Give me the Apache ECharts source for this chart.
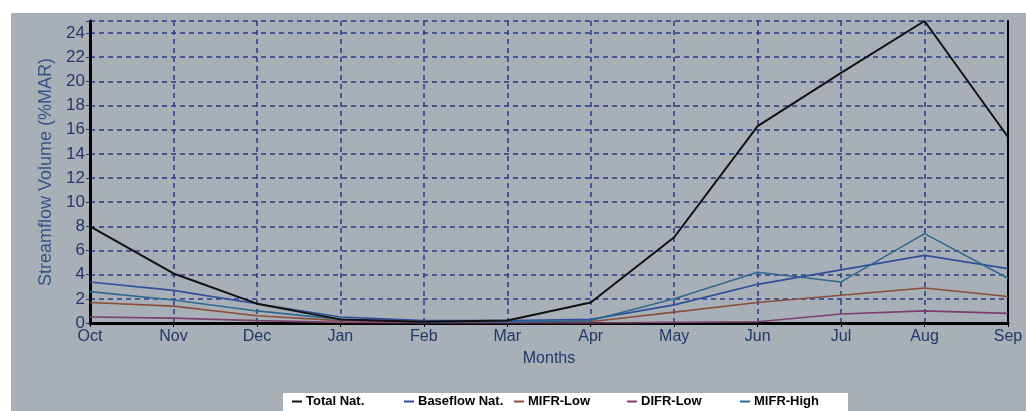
<!DOCTYPE html>
<html>
<head>
<meta charset="utf-8">
<script src="https://cdn.jsdelivr.net/npm/echarts@6/dist/echarts.min.js"></script>
<style>
html,body{margin:0;padding:0;background:#fff;}
#c{width:1026px;height:411px;}
</style>
</head>
<body>
<div id="c"></div>
<script>
const months = ['Oct','Nov','Dec','Jan','Feb','Mar','Apr','May','Jun','Jul','Aug','Sep'];
const totalNat    = [8.0, 4.1, 1.6, 0.3, 0.1, 0.2, 1.7, 7.1, 16.3, 20.7, 25.0, 15.4];
const baseflowNat = [3.4, 2.7, 1.6, 0.5, 0.2, 0.2, 0.3, 1.5, 3.2, 4.4, 5.6, 4.5];
const mifrLow     = [1.7, 1.4, 0.6, 0.2, 0.1, 0.1, 0.1, 0.9, 1.7, 2.3, 2.9, 2.2];
const difrLow     = [0.5, 0.4, 0.2, 0.05, 0.0, 0.0, 0.0, 0.05, 0.1, 0.75, 1.0, 0.8];
const mifrHigh    = [2.6, 1.9, 1.0, 0.3, 0.1, 0.1, 0.2, 2.0, 4.2, 3.4, 7.4, 3.7];
const seriesNames = ['Total Nat.','Baseflow Nat.','MIFR-Low','DIFR-Low','MIFR-High'];

const colors = ['#111111','#2f4f9a','#8a4f3c','#7a3f6e','#2e6a8e'];
const widths = [2,1.6,1.6,1.6,1.6];
const dataSets = [totalNat, baseflowNat, mifrLow, difrLow, mifrHigh];
const legendX = [292, 404, 514, 627, 740];

const sans = "'Liberation Sans',Arial,sans-serif";
const tickColor = '#22386a';

const chart = echarts.init(document.getElementById('c'), null, {renderer:'canvas'});
const option = {
  backgroundColor: '#ffffff',
  animation: false,
  graphic: [
    {type:'rect', z:-10, shape:{x:11,y:13,width:1015,height:398}, style:{fill:'#a8afb7'}},
    {type:'rect', z:-5, shape:{x:283,y:393,width:565,height:18}, style:{fill:'#ffffff'}}
  ],
  grid: {left:90, right:18, top:21, bottom:88, containLabel:false},
  legend: seriesNames.map((n,i)=>({
    data:[n], left: legendX[i], top: 395, icon:'rect', itemWidth:10, itemHeight:2, itemGap:0,
    padding:0,
    textStyle:{fontFamily:sans, fontWeight:'bold', fontSize:13, color:'#000', padding:[0,0,0,-1]}
  })),
  xAxis: [{
    type:'category', data: months, boundaryGap:false,
    name:'Months', nameLocation:'middle', nameGap:28,
    nameTextStyle:{fontFamily:sans, fontSize:16, color:tickColor},
    axisLine:{show:true, lineStyle:{color:'#000', width:3}},
    axisTick:{show:true, length:4, lineStyle:{color:'#000', width:1}},
    axisLabel:{fontFamily:sans, fontSize:16, color:tickColor, margin:6},
    splitLine:{show:true, lineStyle:{color:'#2a3b8a', width:1.5, type:[5,4]}}
  },{
    type:'category', data: months, boundaryGap:false, position:'top',
    axisLine:{show:true, lineStyle:{color:'#000', width:2}},
    axisTick:{show:false}, axisLabel:{show:false}, splitLine:{show:false}
  }],
  yAxis: [{
    type:'value', min:0, max:25, interval:2,
    name:'Streamflow Volume (%MAR)', nameLocation:'middle', nameGap:25, nameRotate:90,
    nameTextStyle:{fontFamily:sans, fontSize:18, color:'#35558a'},
    axisLine:{show:true, lineStyle:{color:'#000', width:3}},
    axisTick:{show:true, length:4, lineStyle:{color:tickColor, width:1}},
    axisLabel:{fontFamily:sans, fontSize:17, color:tickColor, margin:5,
      formatter:(v)=> (v%2===0 ? String(v) : '')},
    splitLine:{show:true, lineStyle:{color:'#2a3b8a', width:1.5, type:[5,4]}}
  },{
    type:'value', min:0, max:25, interval:2, position:'right',
    axisLine:{show:true, lineStyle:{color:'#000', width:2}},
    axisTick:{show:false}, axisLabel:{show:false}, splitLine:{show:false}
  }],
  series: seriesNames.map((n,i)=>({
    name:n, type:'line', data: dataSets[i], showSymbol:false, symbol:'none',
    lineStyle:{color:colors[i], width:widths[i]}, itemStyle:{color:colors[i]},
    z: i===0 ? 5 : 4
  }))
};
chart.setOption(option);
</script>
</body>
</html>
